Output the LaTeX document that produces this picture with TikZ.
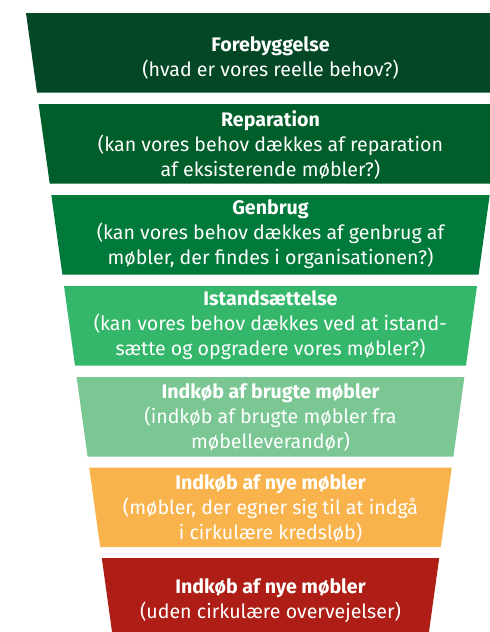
\documentclass[tikz,border=0pt]{standalone}
\usepackage{fontspec}
\setmainfont{Fira Sans}
\definecolor{forebyg}  {RGB}{3,71,38}
\definecolor{repar}    {RGB}{0,94,42}
\definecolor{genbrug}  {RGB}{0,122,58}
\definecolor{istand}   {RGB}{52,183,106}
\definecolor{brugte}   {RGB}{123,199,148}
\definecolor{nyecirk}  {RGB}{249,179,76}
\definecolor{nyeuden}  {RGB}{175,30,22}
\tikzset{
    bandtext/.style={text=white, align=center, inner sep=0pt,
             font=\fontsize{19.6}{25}\selectfont},
    bandtitle/.style={font=\bfseries}
  }

\begin{document}
\begin{tikzpicture}[x=1pt,y=-1pt]
  \useasboundingbox (0,0) rectangle (490,632);
  \clip (0,0) rectangle (490,632);
  %Forebyggelse
      \fill[forebyg] (26,13) -- (515,13) -- (504,92.5) -- (37,92.5) -- cycle;
      \node[bandtext] (forebyggelse) at (270.5,58)
        {\textbf{Forebyggelse}\\(hvad er vores reelle behov?)};
  %Reparation
      \fill[repar] (38.6,104) -- (502.4,104) -- (491.3,183.5) -- (49.7,183.5) -- cycle;
      \node[bandtext] (reparation) at (270.5,145)
        {\textbf{Reparation}\\(kan vores behov dækkes af reparation\\af eksisterende møbler?)};
  %Genbrug
      \fill[genbrug] (51.3,195) -- (489.7,195) -- (478.6,274.5) -- (62.4,274.5) -- cycle;
      \node[bandtext] (genbrug) at (270.5,234.5)
        {\textbf{Genbrug}\\(kan vores behov dækkes af genbrug af\\møbler, der findes i organisationen?)};
  %Istandsaettelse
      \fill[istand] (64,286) -- (477,286) -- (466,365.5) -- (75,365.5) -- cycle;
      \node[bandtext] (istandsaettelse) at (270.5,325.5)
        {\textbf{Istandsættelse}\\(kan vores behov dækkes ved at istand-\\sætte og opgradere vores møbler?)};
  %Indkob brugte
      \fill[brugte] (76.6,377) -- (464.4,377) -- (453.4,456.5) -- (87.6,456.5) -- cycle;
      \node[bandtext] (brugte) at (270.5,417.5)
        {\textbf{Indkøb af brugte møbler}\\(indkøb af brugte møbler fra\\møbelleverandør)};
  %Indkob nye, cirkulaere
      \fill[nyecirk] (89.2,467.5) -- (451.8,467.5) -- (440.8,547) -- (100.2,547) -- cycle;
      \node[bandtext] (nyecirk) at (270.5,508)
        {\textbf{Indkøb af nye møbler}\\(møbler, der egner sig til at indgå\\i cirkulære kredsløb)};
  %Indkob nye, uden
      \fill[nyeuden] (101.8,558) -- (439.2,558) -- (428.2,637.5) -- (112.8,637.5) -- cycle;
      \node[bandtext] (nyeuden) at (270.5,600.5)
        {\textbf{Indkøb af nye møbler}\\(uden cirkulære overvejelser)};
\end{tikzpicture}
\end{document}
